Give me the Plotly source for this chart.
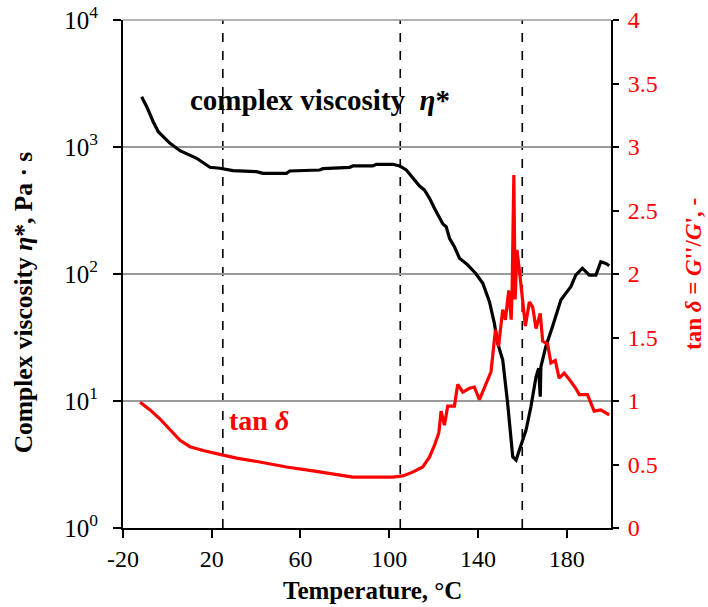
import plotly.graph_objects as go

# Complex viscosity eta* (Pa·s) versus temperature (°C)
temp_visc = [-11.6, -9.3, -6.4, -4.1, 1.2, 5.7, 13.2, 19.2, 23.7, 29.6, 40.1, 43.1,
             53.7, 55.2, 68.7, 70.1, 82.2, 83.6, 92.6, 94.2, 101.6, 104.7, 107.7,
             110.6, 113.7, 115.9, 118.2, 120.4, 122.7, 124.2, 125.7, 127.2, 129.4,
             131.7, 135.4, 139.2, 142.2, 145.2, 147.4, 148.9, 151.2, 153.4, 155.7,
             157.2, 158.7, 161.7, 163.9, 166.2, 167.4, 168.1, 168.4, 170.6, 173.6,
             175.1, 177.4, 179.6, 181.9, 184.1, 187.1, 190.2, 193.2, 195.4, 197.7,
             199.2]
viscosity = [2490, 2077, 1581, 1319, 1070, 935, 815, 692, 680, 651, 640, 621,
             621, 647, 659, 675, 692, 709, 709, 731, 731, 709, 659,
             567, 493, 459, 394, 329, 275, 248, 236, 191, 164,
             133, 118, 100, 84.5, 60.5, 41, 28.5, 21, 9.6, 3.64,
             3.43, 4.11, 5.9, 9.0, 15.5, 18.1, 10.8, 18.6, 26.8, 38.5,
             46, 62.4, 70.4, 79.4, 98, 111, 98, 98, 125, 121,
             116]

# Loss tangent tan(delta) = G''/G' versus temperature (°C)
temp_tan = [-12.3, -7.8, -3.4, 1.2, 5.7, 10.2, 16.1, 23.7, 31.2, 41.7, 53.7, 65.7,
            76.2, 83.6, 95.7, 101.6, 106.1, 110.6, 115.1, 118.2, 120.4, 122.4,
            123.4, 124.9, 126.4, 129.4, 130.9, 133.2, 136.2, 138.4, 140.7, 142.9,
            145.9, 147.9, 149.3, 151.2, 152.4, 153.9, 155.0, 155.4, 156.2, 156.8,
            157.6, 158.7, 160.2, 161.4, 163.2, 164.7, 166.2, 168.1, 169.2, 171.4,
            172.9, 174.9, 176.6, 178.9, 181.2, 184.1, 185.7, 189.4, 192.4, 195.4,
            199.2]
tan_delta = [0.99, 0.93, 0.86, 0.77, 0.69, 0.64, 0.61, 0.58, 0.55, 0.52, 0.48, 0.45,
             0.42, 0.40, 0.40, 0.40, 0.41, 0.44, 0.48, 0.56, 0.65, 0.75,
             0.92, 0.81, 0.96, 0.96, 1.13, 1.07, 1.10, 1.11, 1.01, 1.10,
             1.23, 1.56, 1.43, 1.72, 1.64, 1.87, 1.64, 1.85, 2.78, 1.80,
             2.19, 2.03, 1.80, 1.59, 1.78, 1.74, 1.57, 1.69, 1.47, 1.45,
             1.30, 1.32, 1.18, 1.22, 1.17, 1.10, 1.05, 1.05, 0.92, 0.93,
             0.89]

# Transition temperatures marked with dashed lines
transition_temps = [25, 105, 160]

x_ticks = [-20, 20, 60, 100, 140, 180]
x_ticktext = ["-20", "20", "60", "100", "140", "180"]
y_ticks = [1, 10, 100, 1000, 10000]
y_ticktext = ["10<sup>0</sup>", "10<sup>1</sup>", "10<sup>2</sup>",
              "10<sup>3</sup>", "10<sup>4</sup>"]
y2_ticks = [0, 0.5, 1, 1.5, 2, 2.5, 3, 3.5, 4]
y2_ticktext = ["0", "0.5", "1", "1.5", "2", "2.5", "3", "3.5", "4"]

FONT = "Liberation Serif"
RED = "#ff0000"

fig = go.Figure()
fig.add_trace(go.Scatter(x=temp_visc, y=viscosity, mode="lines",
                         line=dict(color="black", width=3.2), yaxis="y",
                         showlegend=False))
fig.add_trace(go.Scatter(x=temp_tan, y=tan_delta, mode="lines",
                         line=dict(color=RED, width=3.2), yaxis="y2",
                         showlegend=False))

shapes = []
for t in transition_temps:
    shapes.append(dict(type="line", xref="x", yref="paper", x0=t, x1=t, y0=0, y1=1,
                       line=dict(color="black", width=1.6, dash="dash"),
                       layer="between"))
shapes.append(dict(type="line", xref="paper", yref="paper", x0=0, x1=1, y0=1, y1=1,
                   line=dict(color="#9a9a9a", width=1.5), layer="between"))

annotations = [
    dict(text="<b>complex viscosity  <i>η</i>*</b>", xref="paper", yref="paper",
         x=0.133, y=0.843, xanchor="left", yanchor="middle", showarrow=False,
         font=dict(family=FONT, size=29, color="black")),
    dict(text="<b>tan <i>δ</i></b>", xref="paper", yref="paper",
         x=0.213, y=0.211, xanchor="left", yanchor="middle", showarrow=False,
         font=dict(family=FONT, size=28, color=RED)),
    dict(text="<b>Temperature, °C</b>", xref="paper", yref="paper",
         x=0.512, y=-0.124, xanchor="center", yanchor="middle", showarrow=False,
         font=dict(family=FONT, size=25, color="black")),
    dict(text="<b>Complex viscosity <i>η</i>*, Pa · s</b>", xref="paper", yref="paper",
         x=-0.202, y=0.445, xanchor="center", yanchor="middle", showarrow=False,
         textangle=-90, font=dict(family=FONT, size=25.5, color="black")),
    dict(text="<b>tan <i>δ</i> = <i>G</i>''/<i>G</i>', -</b>", xref="paper", yref="paper",
         x=1.168, y=0.5, xanchor="center", yanchor="middle", showarrow=False,
         textangle=-90, font=dict(family=FONT, size=23, color=RED)),
]

fig.update_layout(
    width=708, height=607,
    margin=dict(l=123, r=97, t=20, b=79),
    paper_bgcolor="white", plot_bgcolor="white",
    font=dict(family=FONT, size=24, color="black"),
    xaxis=dict(range=[-20, 200], tickvals=x_ticks, ticktext=x_ticktext,
               ticks="outside", ticklen=8,
               tickwidth=1.5, tickcolor="black", showline=True, linecolor="black",
               linewidth=2, showgrid=False, zeroline=False, automargin=False,
               ticklabelstandoff=0,
               tickfont=dict(family=FONT, size=24, color="black")),
    yaxis=dict(type="log", range=[0, 4], tickvals=y_ticks, ticktext=y_ticktext,
               ticks="outside", ticklen=8, tickwidth=1.5, tickcolor="black",
               showline=True, linecolor="black", linewidth=2,
               showgrid=True, gridcolor="#9a9a9a", gridwidth=1.5, zeroline=False,
               automargin=False, ticklabelstandoff=10,
               tickfont=dict(family=FONT, size=25, color="black")),
    yaxis2=dict(overlaying="y", side="right", range=[0, 4], tickvals=y2_ticks,
                ticktext=y2_ticktext, ticks="outside", ticklen=6, tickwidth=1.5,
                tickcolor="black", showline=True, linecolor="black", linewidth=2,
                showgrid=False, zeroline=False, automargin=False,
                ticklabelstandoff=4,
                tickfont=dict(family=FONT, size=24, color=RED)),
    shapes=shapes,
    annotations=annotations,
)

fig.write_html("out.html")
